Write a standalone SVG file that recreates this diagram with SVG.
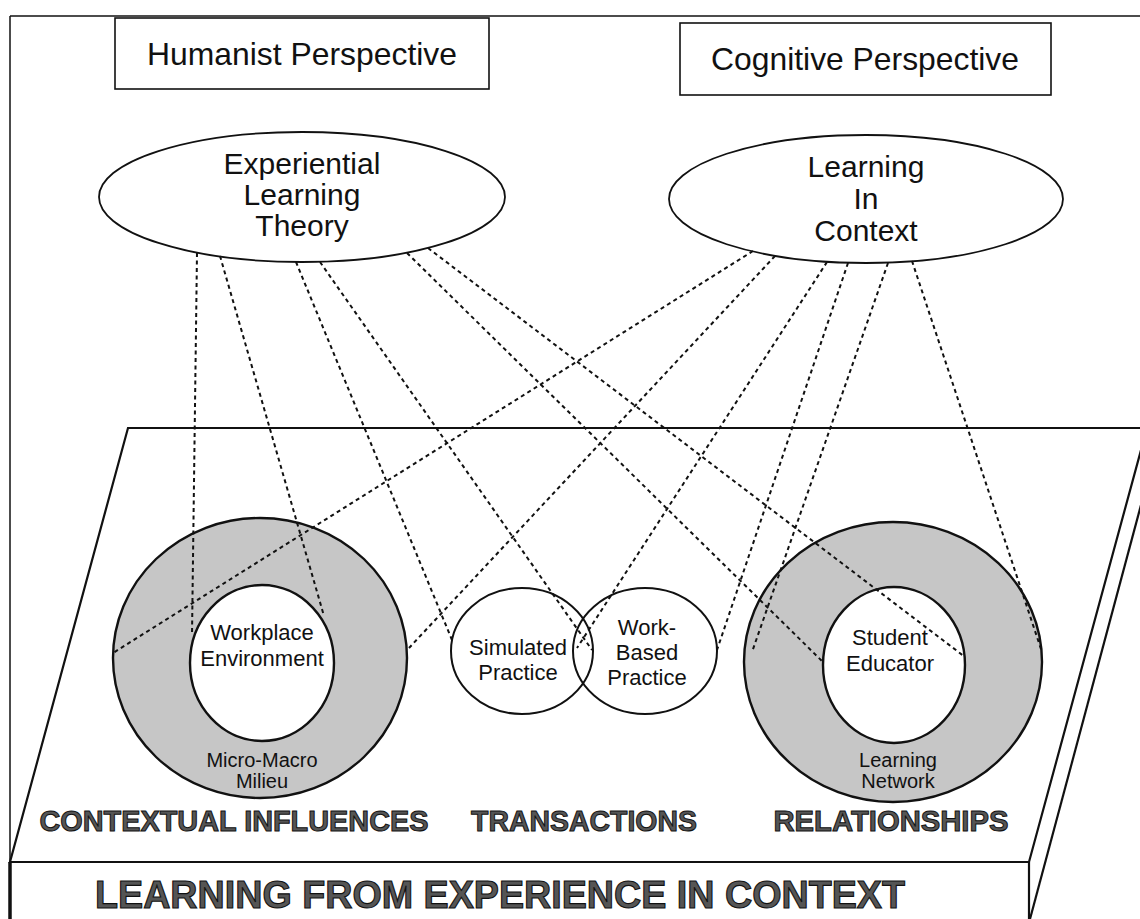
<svg xmlns="http://www.w3.org/2000/svg" width="1140" height="919" viewBox="0 0 1140 919">
  <style>
    .frame{fill:none;stroke:#111;stroke-width:1.5}
    .edge{fill:none;stroke:#111;stroke-width:2.2}
    .box{fill:#fff;stroke:#111;stroke-width:1.6}
    .oval{fill:#fff;stroke:#111;stroke-width:1.8}
    .ring{fill:#c6c6c6;stroke:#111;stroke-width:2.4}
    .core{fill:#fff;stroke:#111;stroke-width:2.4}
    .venn{fill:none;stroke:#111;stroke-width:2}
    .link{fill:none;stroke:#111;stroke-width:2;stroke-dasharray:4 3.5}
    text{font-family:"Liberation Sans",Arial,Helvetica,sans-serif;fill:#111;text-anchor:middle}
    .t-top{font-size:32px}
    .t-oval{font-size:30px}
    .t-core{font-size:22px}
    .t-ring{font-size:20px}
    .t-cat{font-size:29px;font-weight:bold;fill:#555;stroke:#111;stroke-width:1}
    .t-title{font-size:38px;font-weight:bold;fill:#555;stroke:#111;stroke-width:1.1}
  </style>

  <!-- outer frame -->
  <g id="frame">
    <line class="frame" x1="10" y1="16" x2="1140" y2="16"/>
    <line class="frame" x1="10" y1="16" x2="10" y2="919"/>
  </g>

  <!-- slab: top face, front face and side -->
  <g id="platform">
    <polygon points="128,428 1147,428 1029,862 10,862" fill="#fff" stroke="none"/>
    <polyline class="edge" points="1140,428 128,428 10,862 1029,862 1147,428"/>
    <line class="edge" x1="1029" y1="862" x2="1029" y2="919"/>
    <line class="edge" x1="1145" y1="490" x2="1030" y2="919"/>
    <line x1="10" y1="862" x2="10" y2="919" stroke="#111" stroke-width="3.5"/>
  </g>

  <g id="humanist">
    <rect class="box" x="115" y="18" width="374" height="71"/>
    <text class="t-top" x="302" y="65" textLength="310" lengthAdjust="spacingAndGlyphs">Humanist Perspective</text>
  </g>

  <g id="cognitive">
    <rect class="box" x="680" y="23" width="371" height="72"/>
    <text class="t-top" x="865" y="70" textLength="308" lengthAdjust="spacingAndGlyphs">Cognitive Perspective</text>
  </g>

  <g id="experiential">
    <ellipse class="oval" cx="302" cy="197" rx="203" ry="65"/>
    <text class="t-oval" x="302" y="174">Experiential</text>
    <text class="t-oval" x="302" y="205">Learning</text>
    <text class="t-oval" x="302" y="236">Theory</text>
  </g>

  <g id="learning-in-context">
    <ellipse class="oval" cx="866" cy="199" rx="197" ry="64"/>
    <text class="t-oval" x="866" y="177">Learning</text>
    <text class="t-oval" x="866" y="209">In</text>
    <text class="t-oval" x="866" y="241">Context</text>
  </g>

  <g id="contextual">
    <ellipse class="ring" cx="260" cy="658" rx="147" ry="140"/>
    <ellipse class="core" cx="262" cy="663" rx="72" ry="78"/>
  </g>

  <g id="transactions">
    <ellipse class="venn" cx="522" cy="651" rx="71" ry="63"/>
    <ellipse class="venn" cx="645" cy="651" rx="72" ry="63"/>
  </g>

  <g id="relationships">
    <ellipse class="ring" cx="893" cy="662" rx="149" ry="140"/>
    <ellipse class="core" cx="894" cy="665" rx="71" ry="78"/>
  </g>

  <!-- dotted links from both theories down to the slab -->
  <g id="links">
    <line class="link" x1="197" y1="253" x2="192" y2="635"/>
    <line class="link" x1="220" y1="256" x2="324" y2="616"/>
    <line class="link" x1="296" y1="262" x2="452" y2="640"/>
    <line class="link" x1="320" y1="262" x2="592" y2="650"/>
    <line class="link" x1="407" y1="253" x2="823" y2="662"/>
    <line class="link" x1="428" y1="248" x2="965" y2="657"/>
    <line class="link" x1="753" y1="251" x2="113" y2="653"/>
    <line class="link" x1="775" y1="256" x2="409" y2="648"/>
    <line class="link" x1="827" y1="262" x2="577" y2="648"/>
    <line class="link" x1="848" y1="263" x2="717" y2="650"/>
    <line class="link" x1="888" y1="263" x2="752" y2="652"/>
    <line class="link" x1="912" y1="261" x2="1042" y2="652"/>
  </g>

  <g id="labels">
    <text class="t-core" x="262" y="640">Workplace</text>
    <text class="t-core" x="262" y="666">Environment</text>
    <text class="t-ring" x="262" y="767">Micro-Macro</text>
    <text class="t-ring" x="262" y="788">Milieu</text>

    <text class="t-core" x="518" y="655">Simulated</text>
    <text class="t-core" x="518" y="680">Practice</text>
    <text class="t-core" x="647" y="635">Work-</text>
    <text class="t-core" x="647" y="660">Based</text>
    <text class="t-core" x="647" y="685">Practice</text>

    <text class="t-core" x="890" y="645">Student</text>
    <text class="t-core" x="890" y="671">Educator</text>
    <text class="t-ring" x="898" y="767">Learning</text>
    <text class="t-ring" x="898" y="788">Network</text>

    <text class="t-cat" x="234" y="831" textLength="389" lengthAdjust="spacingAndGlyphs">CONTEXTUAL INFLUENCES</text>
    <text class="t-cat" x="584" y="831" textLength="226" lengthAdjust="spacingAndGlyphs">TRANSACTIONS</text>
    <text class="t-cat" x="891" y="831" textLength="235" lengthAdjust="spacingAndGlyphs">RELATIONSHIPS</text>

    <text class="t-title" x="500" y="908" textLength="810" lengthAdjust="spacingAndGlyphs">LEARNING FROM EXPERIENCE IN CONTEXT</text>
  </g>
</svg>
